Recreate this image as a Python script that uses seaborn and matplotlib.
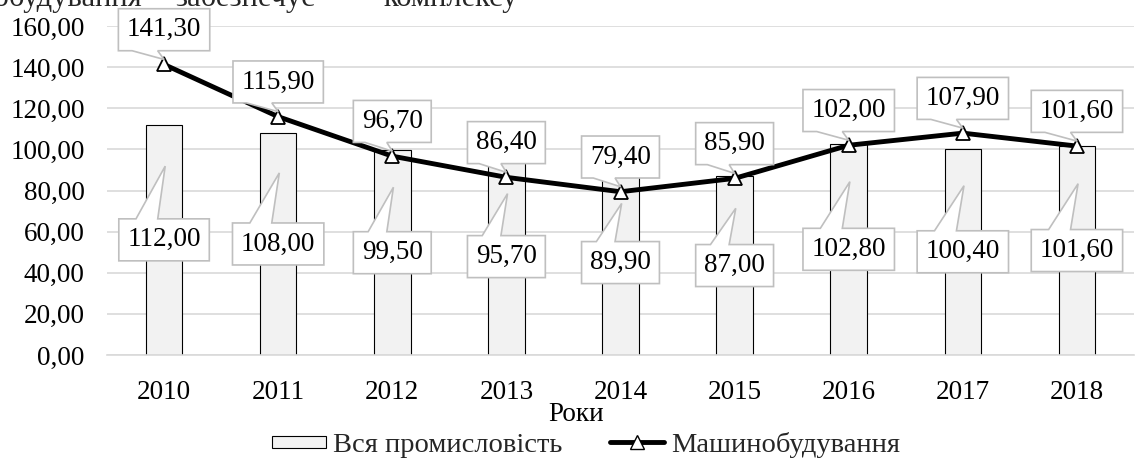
import numpy as np
import matplotlib
matplotlib.use('Agg')
import matplotlib.pyplot as plt
import seaborn as sns
from matplotlib.patches import Patch, Polygon, Rectangle
from matplotlib.lines import Line2D
from matplotlib.legend_handler import HandlerPatch
from matplotlib.transforms import IdentityTransform
from matplotlib.ticker import FuncFormatter

years = ['2010', '2011', '2012', '2013', '2014', '2015', '2016', '2017', '2018']
all_industry = [112.00, 108.00, 99.50, 95.70, 89.90, 87.00, 102.80, 100.40, 101.60]
machinery = [141.30, 115.90, 96.70, 86.40, 79.40, 85.90, 102.00, 107.90, 101.60]

bar_name = 'Вся промисловість'
line_name = 'Машинобудування'
x_title = 'Роки'
# clipped line of the page text above the chart
top_words = ['машинобудування', '–', 'забезпечує', '–', 'комплексу']

sns.set_theme(style='white')
plt.rcParams['font.family'] = ['Liberation Serif', 'DejaVu Serif']
FS = 19.5

def fmt(v):
    return f'{v:.2f}'.replace('.', ',')

fig = plt.figure(figsize=(11.35, 4.59), dpi=100)
ax = fig.add_axes([107 / 1135, 1 - 355 / 459, 1027 / 1135, 329 / 459])

sns.barplot(x=years, y=all_industry, color='#f2f2f2', saturation=1,
            edgecolor='black', linewidth=0.8, width=0.32, ax=ax, zorder=2)
sns.pointplot(x=years, y=machinery, color='black', markers='^',
              linestyles='-', errorbar=None, ax=ax)
ln = ax.lines[-1]
ln.set_linewidth(3.5)
ln.set_markersize(10)
ln.set_markerfacecolor('white')
ln.set_markeredgecolor('black')
ln.set_markeredgewidth(1.3)
ln.set_zorder(4)

ax.set_ylim(0, 160)
ax.set_xlim(-0.5, len(years) - 0.5)
ax.set_yticks(np.arange(0, 161, 20))
ax.yaxis.set_major_formatter(FuncFormatter(lambda v, p: fmt(v)))
ax.grid(axis='y', color='#d9d9d9', linewidth=1.2, zorder=0)
ax.set_axisbelow(True)
for s in ['top', 'right', 'left']:
    ax.spines[s].set_visible(False)
ax.spines['bottom'].set_color('#d9d9d9')
ax.spines['bottom'].set_linewidth(1.2)
ax.tick_params(axis='y', length=0, pad=16, labelsize=FS, labelcolor='black')
ax.tick_params(axis='x', length=0, pad=18, labelsize=FS, labelcolor='black')
ax.set_ylabel('')
ax.set_xlabel(x_title, fontsize=FS, color='black', va='center')
ax.xaxis.set_label_coords(0.457, -0.18)

# data labels (text only, callout shapes are added after a draw)
bar_texts = []
for i, v in enumerate(all_industry):
    t = ax.text(i, v / 2, fmt(v), ha='center', va='center', fontsize=FS,
                color='black', zorder=7)
    bar_texts.append(t)
line_texts = []
for i, v in enumerate(machinery):
    t = ax.annotate(fmt(v), xy=(i, v), xytext=(0, 25), textcoords='offset points',
                    ha='center', va='center', fontsize=FS, color='black', zorder=9)
    line_texts.append(t)

fig.canvas.draw()
rend = fig.canvas.get_renderer()


def callout(t, tip, top_side, z):
    bb = t.get_window_extent(rend)
    cx, cy = (bb.x0 + bb.x1) / 2, (bb.y0 + bb.y1) / 2
    w, h = bb.width + 17, 42
    x0, x1, y0, y1 = cx - w / 2, cx + w / 2, cy - h / 2, cy + h / 2
    if top_side:
        b0, b1 = x0 + 0.19 * w, x0 + 0.43 * w
        verts = [(x0, y0), (x1, y0), (x1, y1), (b1, y1), tip, (b0, y1), (x0, y1)]
    else:
        b0, b1 = x0 + 0.15 * w, x0 + 0.43 * w
        verts = [(x0, y0), (b0, y0), tip, (b1, y0), (x1, y0), (x1, y1), (x0, y1)]
    poly = Polygon(verts, closed=True, fc='white', ec='#bfbfbf', lw=1.2,
                   transform=IdentityTransform(), clip_on=False, zorder=z)
    ax.add_patch(poly)


for i, (t, v) in enumerate(zip(bar_texts, all_industry)):
    tip = ax.transData.transform((i + 0.01, v * 0.82))
    callout(t, tuple(tip), True, 6)
for i, (t, v) in enumerate(zip(line_texts, machinery)):
    px, py = ax.transData.transform((i, v))
    callout(t, (px, py + 5), False, 8)


def small_patch(legend, orig_handle, xdescent, ydescent, width, height, fontsize):
    return Rectangle((-xdescent, -ydescent + height * 0.18), width, height * 0.64)


handles = [
    Patch(fc='#f2f2f2', ec='black', lw=0.8, label=bar_name),
    Line2D([0], [0], color='black', lw=3.5, marker='^', markersize=10,
           markerfacecolor='white', markeredgecolor='black', label=line_name),
]
fig.legend(handles=handles, loc='center', bbox_to_anchor=(586 / 1135, 1 - 445 / 459),
           ncol=2, frameon=False, fontsize=20.5, handlelength=1.9,
           handletextpad=0.25, columnspacing=1.65, borderpad=0.1,
           handler_map={Patch: HandlerPatch(patch_func=small_patch)})

ty = 1 - 6 / 459
fig.text(142 / 1135, ty, top_words[0], fontsize=22, ha='right', va='baseline')
fig.text(157 / 1135, ty, top_words[1], fontsize=22, ha='center', va='baseline')
fig.text(175 / 1135, ty, top_words[2], fontsize=22, ha='left', va='baseline')
fig.text(362 / 1135, ty, top_words[3], fontsize=22, ha='center', va='baseline')
fig.text(383 / 1135, ty, top_words[4], fontsize=22, ha='left', va='baseline')

fig.savefig('out.png', dpi=100)
